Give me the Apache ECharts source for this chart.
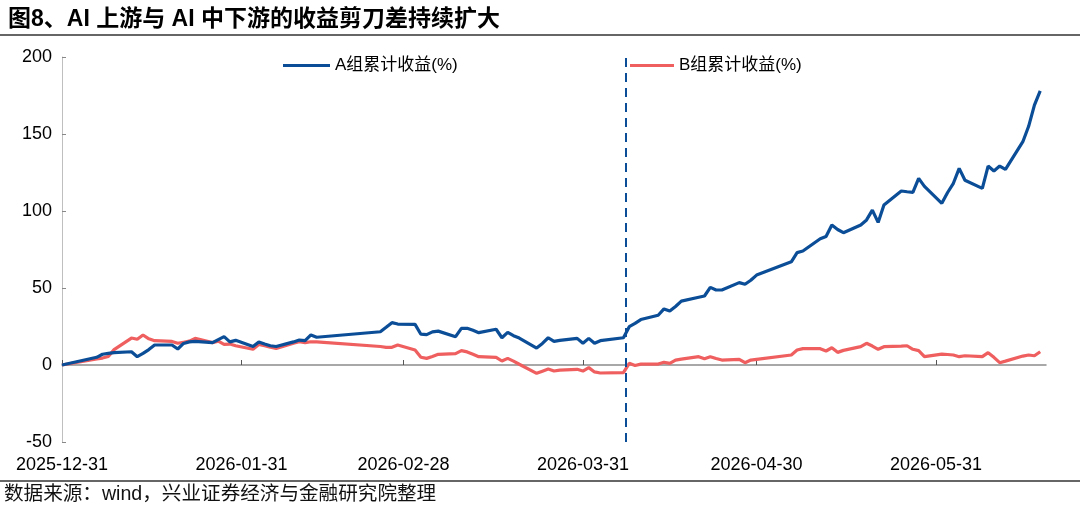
<!DOCTYPE html>
<html>
<head>
<meta charset="utf-8">
<script src="https://cdn.jsdelivr.net/npm/echarts@6/dist/echarts.min.js"></script>
<style>
html,body{margin:0;padding:0;background:#fff;}
#c{width:1080px;height:515px;}
</style>
</head>
<body>
<div id="c"></div>
<script>
const titleText = '图8、AI 上游与 AI 中下游的收益剪刀差持续扩大';
const sourceText = '数据来源：wind，兴业证券经济与金融研究院整理';
const seriesNames = ['A组累计收益(%)', 'B组累计收益(%)'];
const tickDates = ['2025-12-31','2026-01-31','2026-02-28','2026-03-31','2026-04-30','2026-05-31'];
const markDate = '2026-04-07';
const dates = ['2025-12-31','2026-01-06','2026-01-07','2026-01-08','2026-01-09','2026-01-12','2026-01-13','2026-01-14','2026-01-15','2026-01-16','2026-01-19','2026-01-20','2026-01-21','2026-01-22','2026-01-23','2026-01-26','2026-01-27','2026-01-28','2026-01-29','2026-01-30','2026-02-02','2026-02-03','2026-02-04','2026-02-05','2026-02-06','2026-02-09','2026-02-10','2026-02-11','2026-02-12','2026-02-13','2026-02-24','2026-02-25','2026-02-26','2026-02-27','2026-03-02','2026-03-03','2026-03-04','2026-03-05','2026-03-06','2026-03-09','2026-03-10','2026-03-11','2026-03-12','2026-03-13','2026-03-16','2026-03-17','2026-03-18','2026-03-19','2026-03-20','2026-03-23','2026-03-24','2026-03-25','2026-03-26','2026-03-27','2026-03-30','2026-03-31','2026-04-01','2026-04-02','2026-04-03','2026-04-07','2026-04-08','2026-04-09','2026-04-10','2026-04-13','2026-04-14','2026-04-15','2026-04-16','2026-04-17','2026-04-20','2026-04-21','2026-04-22','2026-04-23','2026-04-24','2026-04-27','2026-04-28','2026-04-29','2026-04-30','2026-05-06','2026-05-07','2026-05-08','2026-05-11','2026-05-12','2026-05-13','2026-05-14','2026-05-15','2026-05-18','2026-05-19','2026-05-20','2026-05-21','2026-05-22','2026-05-25','2026-05-26','2026-05-27','2026-05-28','2026-05-29','2026-06-01','2026-06-02','2026-06-03','2026-06-04','2026-06-05','2026-06-08','2026-06-09','2026-06-10','2026-06-11','2026-06-12','2026-06-15','2026-06-16','2026-06-17','2026-06-18'];
const valuesA = [0,5,7,7.5,8,8.6,5.4,7.5,10,13,13,10.4,14,15,15.3,14.5,16.5,18.4,15,16,12,15,13.6,12.5,12,15,16.2,15.8,19.5,18,21.6,24.5,27.5,26.6,26.4,20,19.7,21.5,22,18.4,23.8,23.8,22.5,21,23.2,17.7,21.2,19,17.5,11,14,17.7,15.3,16,17.3,14.1,17.3,14.1,15.8,17.7,24.9,27,29.5,32.3,36.4,35,38,41.5,44,44.8,50.4,48.7,48.7,53.5,52.4,55,58.4,67,73,74,82,83.5,90.9,88,85.9,90.9,94.2,100.6,92.6,103.9,113,112.5,112.1,121.2,116,105,112,118,127.7,120,114.7,129.2,126,129.2,127,145,155,168.8,178];
const valuesB = [0,4,4.5,5.5,10,17.5,16.7,19.5,17,15.8,15.3,14.1,14.8,15.5,17.3,14.5,15.5,13.4,13.6,12.5,10.2,13.3,12.5,11.5,10.8,14.1,15.1,14.5,15.1,15,12,11.5,11.5,13,9.7,5,4.3,5.5,6.9,7.4,9.3,8.5,7,5.4,5,2.6,4.3,2.5,0.5,-5.4,-4,-2.6,-3.9,-3.3,-2.8,-3.9,-1.7,-4.5,-5.2,-5,1.1,-0.3,0.6,0.6,1.8,1.1,3.2,3.8,5.4,4.1,5.4,4.2,3.2,3.7,1.5,3.2,3.7,6.5,9.7,10.6,10.6,9.1,11.2,8.2,9.5,11.9,14.1,12.3,10.2,11.9,12.3,12.5,10.2,9.3,5.4,7.1,6.8,6.5,5.4,6,5.4,8,5,1.5,2.5,5.8,6.5,6,8.6];

// x positions are day offsets from the first date (linear calendar scale)
const DAY = 86400000;
function ts(s){const p=s.split('-').map(Number);return Date.UTC(p[0],p[1]-1,p[2]);}
const t0 = ts(dates[0]);
function dayOf(s){return Math.round((ts(s)-t0)/DAY);}
function pad(n){return (n<10?'0':'')+n;}
function fmt(v){const d=new Date(t0+Math.round(v)*DAY);return d.getUTCFullYear()+'-'+pad(d.getUTCMonth()+1)+'-'+pad(d.getUTCDate());}

const FONT = "'Liberation Sans', 'Noto Sans CJK SC', sans-serif";
const blue = '#0b4e97', red = '#ef5f5f';
const xMin = 0, xMax = dayOf('2026-06-19');
const tickVals = tickDates.map(dayOf);

const chart = echarts.init(document.getElementById('c'));
chart.setOption({
  animation: false,
  backgroundColor: '#fff',
  textStyle: {fontFamily: FONT},
  title: {text: titleText, left: 3, top: 3, textStyle: {fontSize: 23, fontWeight: 'bold', color: '#000', fontFamily: FONT}},
  graphic: [
    {type: 'line', shape: {x1: 0, y1: 35, x2: 1080, y2: 35}, style: {stroke: '#333', lineWidth: 1.5}},
    {type: 'line', shape: {x1: 0, y1: 481, x2: 1080, y2: 481}, style: {stroke: '#333', lineWidth: 1.5}},
    {type: 'text', left: 4, top: 485, style: {text: sourceText, fill: '#111', font: '19.6px ' + FONT}}
  ],
  legend: [
    {data: [seriesNames[0]], left: 278, top: 52, icon: 'rect', itemWidth: 47, itemHeight: 3, textStyle: {fontSize: 17, color: '#000', fontFamily: FONT}},
    {data: [seriesNames[1]], left: 625, top: 52, icon: 'rect', itemWidth: 44, itemHeight: 3, textStyle: {fontSize: 17, color: '#000', fontFamily: FONT}}
  ],
  grid: {left: 62, right: 34, top: 57, bottom: 73, containLabel: false},
  xAxis: [
    {type: 'value', min: xMin, max: xMax, position: 'bottom',
     axisLine: {show: false, onZero: false}, axisTick: {show: false}, splitLine: {show: false},
     axisLabel: {customValues: tickVals, formatter: fmt, fontSize: 18, color: '#000', margin: 14, fontFamily: FONT, hideOverlap: false}},
    {type: 'value', min: xMin, max: xMax, position: 'bottom',
     axisLine: {show: true, onZero: true, lineStyle: {color: '#8c8c8c', width: 1.5}},
     axisTick: {show: true, inside: true, length: 5, customValues: tickVals, lineStyle: {color: '#555'}},
     axisLabel: {show: false}, splitLine: {show: false}}
  ],
  yAxis: {type: 'value', min: -50, max: 200, interval: 50,
    axisLine: {show: true, lineStyle: {color: '#bfbfbf', width: 1}},
    axisTick: {show: true, inside: true, length: 4, lineStyle: {color: '#888'}},
    axisLabel: {fontSize: 18, color: '#000', margin: 10, fontFamily: FONT},
    splitLine: {show: false}},
  series: [
    {name: seriesNames[0], type: 'line', xAxisIndex: 0, symbol: 'none', z: 3,
     lineStyle: {color: blue, width: 3.2}, itemStyle: {color: blue},
     data: dates.map((d, i) => [dayOf(d), valuesA[i]]),
     markLine: {silent: true, symbol: ['none', 'none'], label: {show: false},
       lineStyle: {color: blue, type: [9, 6], width: 2},
       data: [{xAxis: dayOf(markDate) + 0.4}]}},
    {name: seriesNames[1], type: 'line', xAxisIndex: 0, symbol: 'none', z: 2,
     lineStyle: {color: red, width: 3.2}, itemStyle: {color: red},
     data: dates.map((d, i) => [dayOf(d), valuesB[i]])}
  ]
});
</script>
</body>
</html>
